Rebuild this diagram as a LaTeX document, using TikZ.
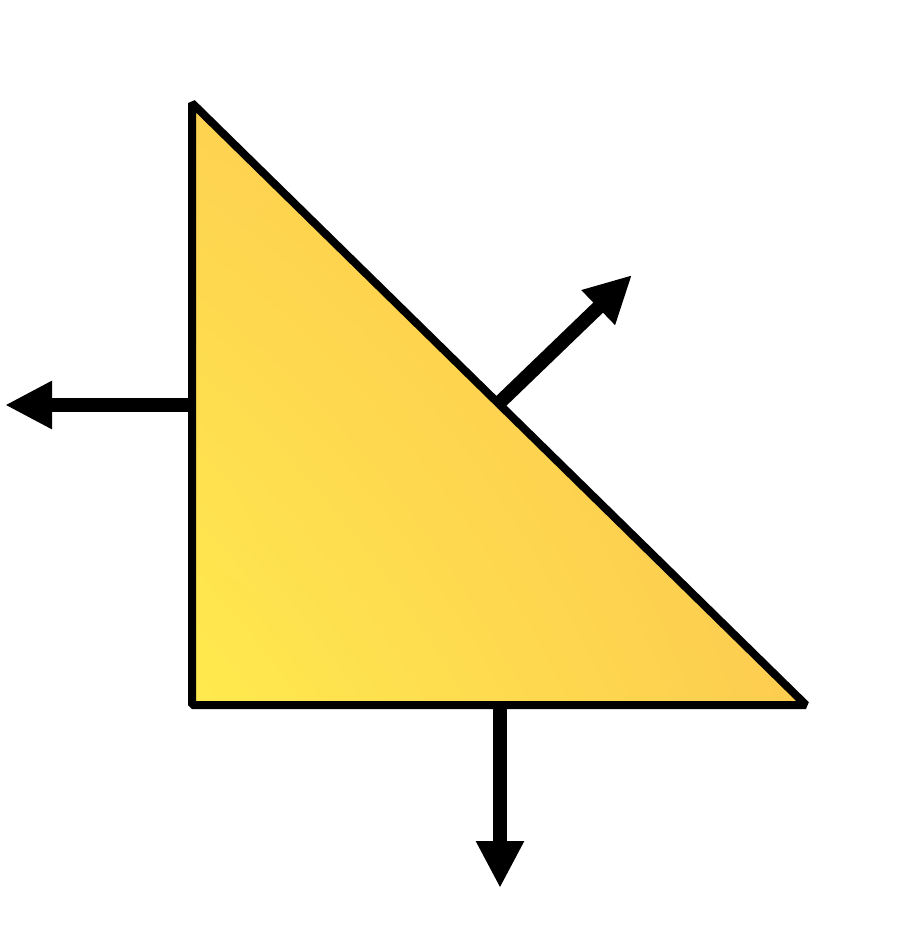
\documentclass[tikz,border=0pt]{standalone}
\usetikzlibrary{arrows.meta,shadings}
\definecolor{ylo}{RGB}{255,234,78}
\definecolor{ymidA}{RGB}{254,210,80}
\definecolor{ymidB}{RGB}{253,204,80}
\definecolor{yhi}{RGB}{252,196,78}
\tikzset{
  edge/.style={line width=8pt, line join=bevel},
  normal/.style={line width=14pt, -{Triangle[length=47pt,width=45pt]}}
}
\begin{document}
\begin{tikzpicture}[x=1pt,y=-1pt]
\useasboundingbox (0,0) rectangle (910,931);
\coordinate (A) at (192,103);
\coordinate (B) at (192,705);
\coordinate (C) at (806,705);
\shade[lower left=ylo, upper left=ymidA, lower right=ymidB, upper right=yhi]
  (A) -- (B) -- (C) -- cycle;
\draw[edge] (A) -- (B) -- (C) -- cycle;
\coordinate (L0) at (190,405);
\coordinate (L1) at (5,405);
\coordinate (D0) at (500,709);
\coordinate (D1) at (500,888);
\coordinate (H0) at (496,406);
\coordinate (H1) at (632,275);
\draw[normal] (L0) -- (L1);
\draw[normal] (D0) -- (D1);
\draw[normal] (H0) -- (H1);
\end{tikzpicture}
\end{document}
